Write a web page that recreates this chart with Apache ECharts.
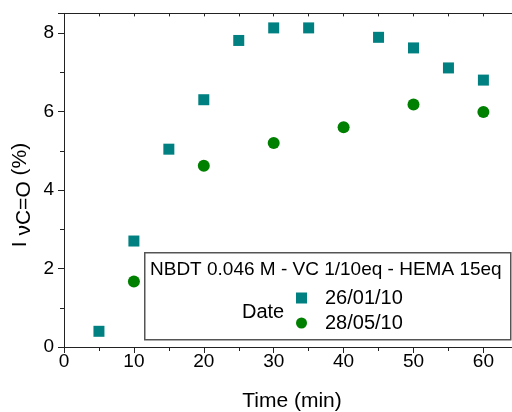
<!DOCTYPE html>
<html>
<head>
<meta charset="utf-8">
<script src="https://cdn.jsdelivr.net/npm/echarts@6/dist/echarts.min.js"></script>
<style>html,body{margin:0;padding:0;background:#fff}#c{width:512px;height:412px}</style>
</head>
<body>
<div id="c"></div>
<script>
// Data
const timeA = [5, 10, 15, 20, 25, 30, 35, 45, 50, 55, 60];
const valA  = [0.40, 2.70, 5.04, 6.30, 7.81, 8.13, 8.13, 7.89, 7.62, 7.11, 6.80];
const timeB = [10, 20, 30, 40, 50, 60];
const valB  = [1.67, 4.62, 5.20, 5.60, 6.18, 5.99];
const nameA = '26/01/10';
const nameB = '28/05/10';
const legendTitle = 'NBDT 0.046 M - VC 1/10eq - HEMA 15eq';
const legendSub = 'Date';
const xTitle = 'Time (min)';
const yTitleParts = ['I ', 'νC=O', ' (%)'];

const FONT = 'Liberation Sans, Arial, sans-serif';
const chart = echarts.init(document.getElementById('c'), null, {renderer: 'canvas'});

const X0 = 64, Y0 = 347, PXX = 6.99, PXY = 39.25;
const XMAX = (512 - X0) / PXX;
const YMAX = 8.5;

// y title built from pieces (subscript lowered)
const mctx = document.createElement('canvas').getContext('2d');
const yFont = '21px ' + FONT;
mctx.font = yFont;
const widths = yTitleParts.map(p => mctx.measureText(p).width);
const totalW = widths.reduce((a, b) => a + b, 0);
let cx = -totalW / 2;
const yTitleChildren = yTitleParts.map((p, i) => {
  const el = {type: 'text', x: cx, y: i === 1 ? 4 : 0,
    style: {text: p, font: yFont, fill: '#000', align: 'left', verticalAlign: 'middle'}};
  cx += widths[i];
  return el;
});

const option = {
  animation: false,
  backgroundColor: '#fff',
  grid: {left: X0, top: Y0 - YMAX * PXY, width: XMAX * PXX, height: YMAX * PXY, containLabel: false},
  xAxis: [{
    type: 'value', position: 'bottom', min: 0, max: XMAX, interval: 10,
    axisLine: {show: true, onZero: false, lineStyle: {color: '#222', width: 1}},
    axisTick: {show: true, inside: false, length: 6, lineStyle: {color: '#222'}},
    minorTick: {show: true, splitNumber: 2, length: 4, lineStyle: {color: '#222'}},
    axisLabel: {fontFamily: FONT, fontSize: 19, color: '#000', margin: 5, showMaxLabel: false},
    splitLine: {show: false}
  }, {
    type: 'value', position: 'top', min: 0, max: XMAX, interval: 5,
    axisLine: {show: true, onZero: false, lineStyle: {color: '#222', width: 1}},
    axisTick: {show: true, inside: true, length: 3, lineStyle: {color: '#222'}},
    axisLabel: {show: false},
    splitLine: {show: false}
  }],
  yAxis: [{
    type: 'value', min: 0, max: YMAX, interval: 2,
    axisLine: {show: true, onZero: false, lineStyle: {color: '#222', width: 1}},
    axisTick: {show: true, inside: false, length: 6, lineStyle: {color: '#222'}},
    minorTick: {show: true, splitNumber: 2, length: 4, lineStyle: {color: '#222'}},
    axisLabel: {fontFamily: FONT, fontSize: 19, color: '#000', margin: 10, showMaxLabel: false},
    splitLine: {show: false}
  }],
  legend: {
    orient: 'vertical', left: 296, top: 288, itemWidth: 11, itemHeight: 11, itemGap: 5,
    padding: 0, z: 20,
    textStyle: {fontFamily: FONT, fontSize: 20, color: '#000', lineHeight: 20, padding: [0, 0, 0, 13]},
    data: [nameA, nameB]
  },
  graphic: [
    {type: 'rect', left: 144, top: 252, z: 10, shape: {width: 366, height: 87},
     style: {fill: '#fff', stroke: '#555', lineWidth: 1.5}},
    {type: 'text', x: 150, y: 270, z: 11,
     style: {text: legendTitle, font: '19px ' + FONT, fill: '#000', verticalAlign: 'middle', align: 'left'}},
    {type: 'text', x: 242, y: 312, z: 11,
     style: {text: legendSub, font: '20px ' + FONT, fill: '#000', verticalAlign: 'middle', align: 'left'}},
    {type: 'text', x: 292, y: 401, z: 11,
     style: {text: xTitle, font: '21px ' + FONT, fill: '#000', verticalAlign: 'middle', align: 'center'}},
    {type: 'group', x: 20, y: 195, rotation: Math.PI / 2, z: 11, children: yTitleChildren}
  ],
  series: [{
    name: nameA, type: 'scatter', symbol: 'rect', symbolSize: 11,
    itemStyle: {color: '#008080', opacity: 1},
    data: timeA.map((t, i) => [t, valA[i]]), z: 5
  }, {
    name: nameB, type: 'scatter', symbol: 'circle', symbolSize: 12,
    itemStyle: {color: '#008000', opacity: 1},
    data: timeB.map((t, i) => [t, valB[i]]), z: 5
  }]
};
chart.setOption(option);
</script>
</body>
</html>
